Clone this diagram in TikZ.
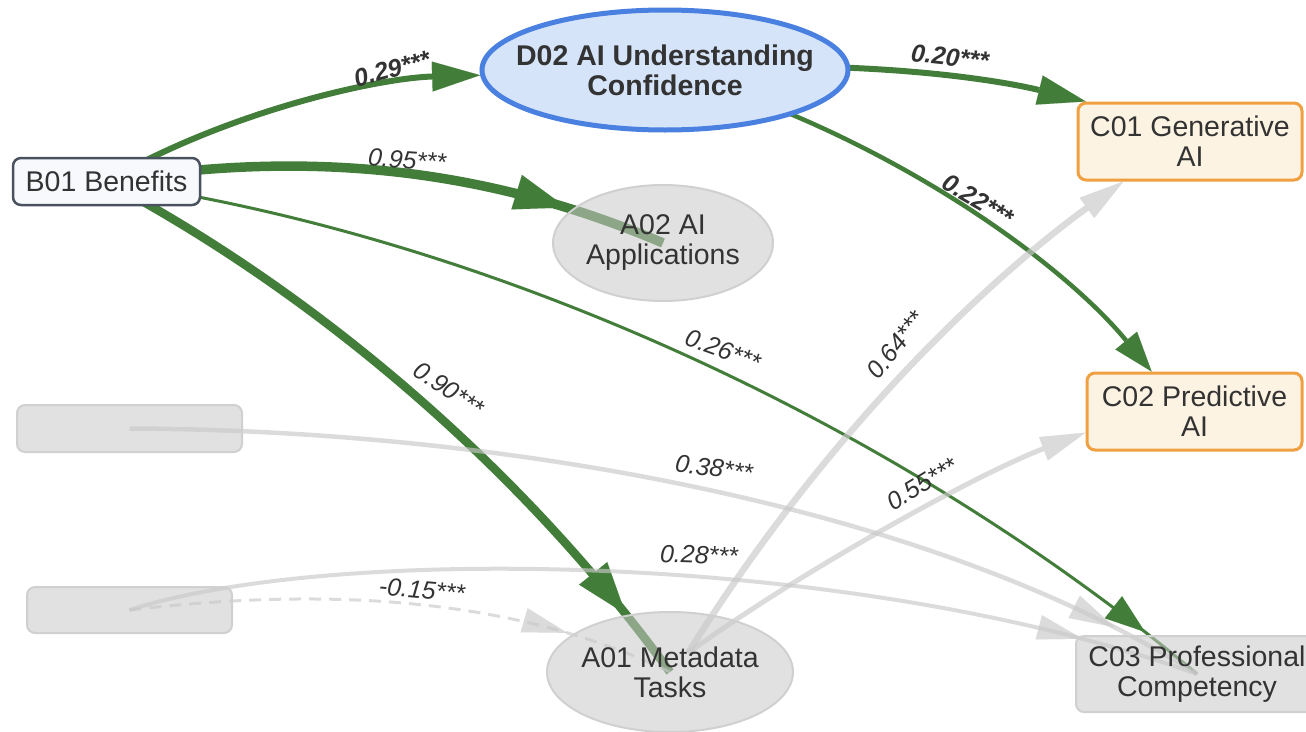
\documentclass[tikz,border=0pt]{standalone}
\usepackage{fontspec}
\setmainfont{Liberation Sans}
\usetikzlibrary{arrows.meta,decorations.markings,shapes.geometric}
\pgfdeclarelayer{edges}
\pgfsetlayers{edges,main}
\definecolor{eg}{RGB}{67,125,58}
\definecolor{txt}{RGB}{51,51,51}
\definecolor{dfill}{RGB}{214,228,250}
\definecolor{ddraw}{RGB}{74,128,224}
\definecolor{bfill}{RGB}{247,249,252}
\definecolor{bdraw}{RGB}{74,82,96}
\definecolor{cfill}{RGB}{253,243,227}
\definecolor{cdraw}{RGB}{240,160,64}
\definecolor{gfill}{RGB}{200,200,200}
\definecolor{gdraw}{RGB}{208,208,208}
\definecolor{gedge}{RGB}{200,200,200}
\tikzset{
  bigtip/.tip={Triangle[length=52pt,width=36pt,line width=0.01pt]},
  midtip/.tip={Triangle[length=48pt,width=30pt,line width=0.01pt]},
  smtip/.tip={Triangle[length=40pt,width=28pt,line width=0.01pt]},
  gtip/.tip={Triangle[length=45pt,width=25pt,line width=0.01pt]},
  tipat/.style 2 args={postaction={decorate},
    decoration={markings, mark=at position #1 with {\arrow{#2}}}},
  nd/.style={font=\fontsize{28.5}{30}\selectfont, text=txt, align=center, inner sep=0pt},
  bnode/.style={nd, rectangle, rounded corners=8pt, draw=bdraw, line width=2.5pt, fill=bfill,
    minimum width=187pt, minimum height=47pt},
  dnode/.style={nd, font=\fontsize{28.5}{30}\selectfont\bfseries, ellipse, draw=ddraw, line width=5pt,
    fill=dfill, minimum width=366pt, minimum height=120pt, inner xsep=-70pt},
  gell/.style={nd, ellipse, fill=gfill, fill opacity=0.55, text opacity=1, draw=gdraw,
    line width=2pt, inner xsep=-40pt},
  cnode/.style={nd, rectangle, rounded corners=8pt, draw=cdraw, line width=3pt, fill=cfill,
    minimum height=77pt},
  gbox/.style={nd, rectangle, rounded corners=8pt, fill=gfill, fill opacity=0.55, text opacity=1,
    draw=gdraw, line width=2pt},
  ge/.style={color=eg},
  gy/.style={color=gedge, opacity=0.65},
  lbl/.style={font=\fontsize{25}{25}\selectfont\itshape, text=txt, inner sep=0pt},
  lblb/.style={font=\fontsize{25}{25}\selectfont\bfseries\itshape, text=txt, inner sep=0pt},
}
\begin{document}
\begin{tikzpicture}[x=1pt,y=-1pt]
\useasboundingbox (0,0) rectangle (1306,731);

% nodes
\node[bnode] (b01) at (106.5,181.5) {B01 Benefits};
\node[dnode] (d02) at (665,70) {D02 AI Understanding\\Confidence};
\node[gell, minimum width=220pt, minimum height=116pt] (a02) at (663,243) {A02 AI\\Applications};
\node[gell, minimum width=246pt, minimum height=120pt] (a01) at (670,672) {A01 Metadata\\Tasks};
\node[cnode, minimum width=224pt] (c01) at (1190,141.5) {C01 Generative\\AI};
\node[cnode, minimum width=215pt] (c02) at (1194.5,411.5) {C02 Predictive\\AI};
\node[gbox, minimum width=242pt, minimum height=76pt] (c03) at (1197,674) {C03 Professional\\Competency};
\node[gbox, minimum width=225pt, minimum height=47pt] (g1) at (129.5,428.5) {};
\node[gbox, minimum width=205pt, minimum height=46pt] (g2) at (129.5,610) {};
\coordinate (a01o) at ([shift={(18,-19)}]a01.center);

% edges
\begin{pgfonlayer}{edges}
\draw[ge, line width=6pt, -midtip] (b01.center) .. controls (230,110) and (380,78) .. (d02);
\draw[ge, line width=9.5pt, tipat={-103pt}{bigtip}] (b01.center) .. controls (300,150) and (480,165) .. (a02.center);
\draw[ge, line width=3pt, tipat={-67pt}{smtip}] (b01.center) .. controls (502,238) and (907,431) .. (c03.center);
\draw[ge, line width=8.5pt, tipat={-73pt}{bigtip}] (b01.center) .. controls (336,304) and (535,486) .. (a01.center);
\draw[ge, line width=6pt, -midtip] (d02.center) .. controls (850,58) and (990,78) .. (c01.159);
\draw[ge, line width=4.5pt, -smtip] (d02.center) .. controls (880,130) and (1060,260) .. (c02.137);
\draw[gy, line width=6.5pt, -gtip] (a01o) .. controls (847,399) and (1023,254) .. (c01.211);
\draw[gy, line width=5pt, -gtip] (a01o) .. controls (801,571) and (977,474) .. (c02.191);
\draw[gy, line width=4.5pt, tipat={-95pt}{gtip}] (g1.center) .. controls (500,430) and (930,505) .. (c03.center);
\draw[gy, line width=4pt, tipat={-120pt}{gtip}] (g2.center) .. controls (330,545) and (850,550) .. (c03.center);
\draw[gy, line width=3pt, dash pattern=on 12pt off 8pt, tipat={-110pt}{gtip}] (g2.center) .. controls (300,590) and (500,590) .. (a01.center);
\end{pgfonlayer}

% labels
\node[lblb, rotate=15] (l1) at (392,69) {0.29***};
\node[lbl, rotate=-4] (l2) at (407,160) {0.95***};
\node[lbl, rotate=-20] (l3) at (723,350) {0.26***};
\node[lbl, rotate=-34] (l4) at (449,389) {0.90***};
\node[lblb, rotate=-6] (l5) at (950,57) {0.20***};
\node[lblb, rotate=-30] (l6) at (978,200) {0.22***};
\node[lbl, rotate=52] (l7) at (896,345) {0.64***};
\node[lbl, rotate=31] (l8) at (922,484) {0.55***};
\node[lbl, rotate=-8] (l9) at (714,468) {0.38***};
\node[lbl, rotate=-2] (l10) at (699,555) {0.28***};
\node[lbl, rotate=-5] (l11) at (422,590) {-0.15***};
\end{tikzpicture}
\end{document}
